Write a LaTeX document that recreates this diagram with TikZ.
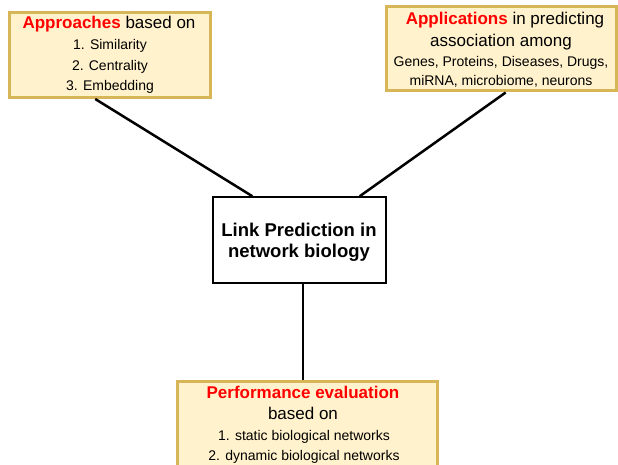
\documentclass[tikz,border=0pt]{standalone}
\usepackage{fontspec}
\setmainfont{Liberation Sans}
\usetikzlibrary{calc}
\definecolor{noteFill}{HTML}{FFF2CC}
\definecolor{noteLine}{HTML}{D6B656}
\definecolor{keyRed}{HTML}{FF0000}
\tikzset{
  notebox/.style={draw=noteLine, fill=noteFill, line width=3pt, rectangle, inner sep=0pt},
  corebox/.style={draw=black, fill=white, line width=1.5pt, rectangle, inner sep=0pt},
  link/.style={draw=black, line width=2.5pt},
  big/.style={anchor=base, inner sep=0pt, font=\fontsize{17}{20}\selectfont},
  small/.style={anchor=base, inner sep=0pt, font=\fontsize{14}{17}\selectfont},
  core/.style={anchor=base, inner sep=0pt, font=\fontsize{18.5}{22}\selectfont\bfseries},
  hl/.style={text=keyRed}
}
\begin{document}
\begin{tikzpicture}[x=1pt, y=-1pt]
  \useasboundingbox (0,0) rectangle (618,465);
  \clip (0,0) rectangle (618,465);
  \fill[white] (0,0) rectangle (618,465);

  % the four boxes
  \node[notebox, minimum width=201pt, minimum height=85pt] (appr) at (109.5,55) {};
  \node[notebox, minimum width=230pt, minimum height=84pt] (apps) at (501,49) {};
  \node[notebox, minimum width=260pt, minimum height=110pt] (perf) at (307,436) {};
  \node[corebox, minimum width=173pt, minimum height=86pt] (core) at (299.5,240) {};

  % connectors
  \coordinate (coreFoot) at ($(core.south west)!0.52!(core.south east)$);
  \draw[link] ($(appr.south west)!0.43!(appr.south east)$) -- ($(core.north west)!0.23!(core.north east)$);
  \draw[link] ($(apps.south west)!0.52!(apps.south east)$) -- ($(core.north west)!0.845!(core.north east)$);
  \draw[link] (coreFoot) -- (coreFoot |- perf.north);

  % approaches
  \node[big] (appr1) at (109,29) {\textcolor{keyRed}{\bfseries Approaches} based on};
  \node[small] (appr2) at (110,50) {1. Similarity};
  \node[small] (appr3) at (110,71) {2. Centrality};
  \node[small] (appr4) at (110,91) {3. Embedding};

  % applications
  \node[big] (apps1) at (505,25) {\textcolor{keyRed}{\bfseries Applications} in predicting};
  \node[big] (apps2) at (501,47) {association among};
  \node[small] (apps3) at (501,67) {Genes, Proteins, Diseases, Drugs,};
  \node[small] (apps4) at (501,86) {miRNA, microbiome, neurons};

  % performance evaluation
  \node[big, hl, font=\fontsize{17}{20}\selectfont\bfseries] (perf1) at (303,398) {Performance evaluation};
  \node[big] (perf2) at (303,419) {based on};
  \node[small] (perf3) at (304,440) {1. static biological networks};
  \node[small] (perf4) at (304,460) {2. dynamic biological networks};

  % central topic
  \node[core] (core1) at (299,236) {Link Prediction in};
  \node[core] (core2) at (299,257) {network biology};
\end{tikzpicture}
\end{document}
